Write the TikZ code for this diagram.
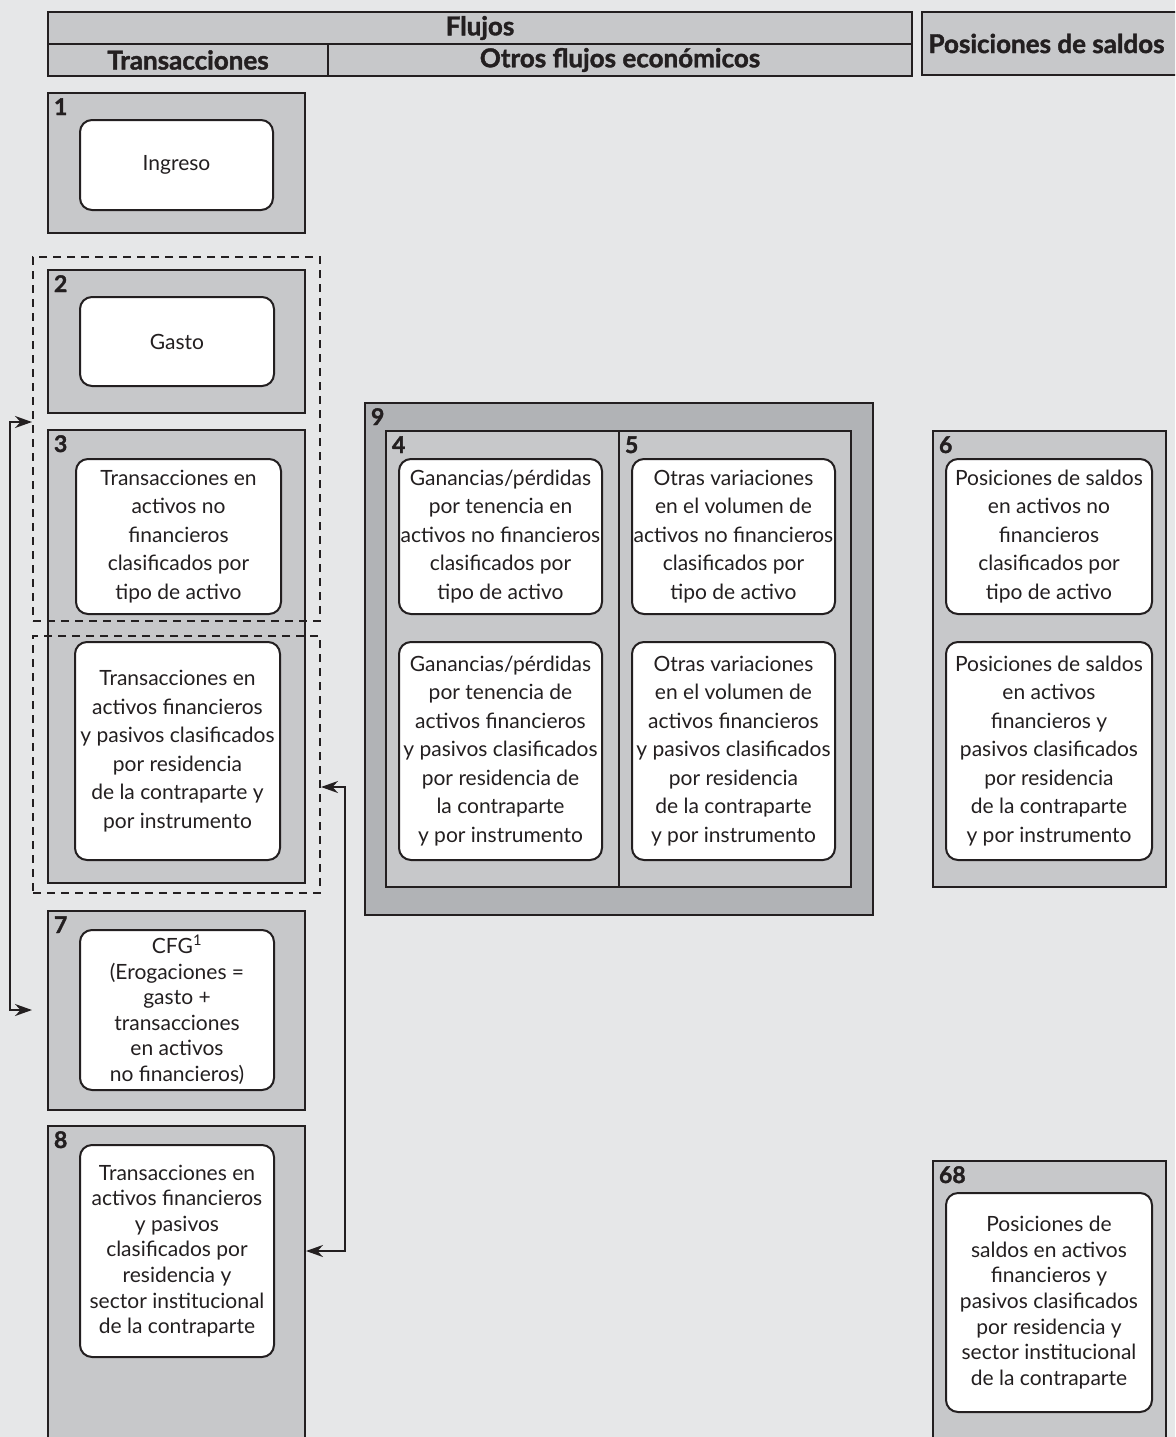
\documentclass[tikz,border=0pt]{standalone}
\usepackage{fontspec}
\setmainfont{Lato}
\newfontfamily\heavyfont[FakeBold=1.5]{Lato}
\usepackage{tikz}
\usetikzlibrary{shapes,arrows,fit, positioning, arrows.meta}
\usetikzlibrary{backgrounds}

\definecolor{bg_gray}{HTML}{E6E7E8}
\definecolor{box_gray}{HTML}{C7C8CA}
\definecolor{outer_gray}{HTML}{B1B3B6}
\definecolor{line_black}{HTML}{231F20}

\begin{document}
\begin{tikzpicture}[x=1pt, y=-1pt, line width=2pt, color=line_black, >={Stealth[length=17pt, width=12pt]}]
	\tikzstyle{frame_style}=[rectangle, draw, fill=box_gray, inner sep=0pt]
	\tikzstyle{head_style}=[rectangle, draw, fill=box_gray, inner sep=0pt, font=\fontsize{26}{30}\heavyfont\bfseries]
	\tikzstyle{text_style}=[rectangle, draw, fill=white, rounded corners=12pt, align=center, inner sep=0pt, font=\fontsize{21}{28.5}\selectfont]
	\tikzstyle{tight_style}=[text_style, font=\fontsize{21}{25.6}\selectfont]
	\tikzstyle{number_style}=[anchor=base west, inner sep=0pt, font=\fontsize{23}{25}\heavyfont\bfseries]
	\tikzstyle{dashed_style}=[rectangle, draw, dash pattern=on 8pt off 6pt, inner sep=0pt]

	\useasboundingbox (0,0) rectangle (1175,1437);
	\clip (0,0) rectangle (1175,1437);
	\fill[bg_gray] (0,0) rectangle (1175,1437);

	% headers
	\node at (480, 28) [head_style, minimum width=864pt, minimum height=32pt] (head_flujos) {Flujos};
	\node at (188, 60) [head_style, minimum width=280pt, minimum height=32pt] (head_trans) {Transacciones};
	\node at (620, 60) [head_style, minimum width=584pt, minimum height=32pt] (head_otros) {Otros flujos económicos};
	\node at (1053.5, 43.5) [head_style, minimum width=263pt, minimum height=63pt] (head_saldos) {\hspace*{-14pt}Posiciones de saldos};

	% transacciones
	\foreach \n/\cy/\h in {1/163/140, 2/341.5/143, 3/656.5/453, 7/1010.5/199, 8/1293/334}
		\node at (176.5, \cy) [frame_style, minimum width=257pt, minimum height=\h pt] (frame_\n) {};
	\node at (176.5, 165) [text_style, minimum width=193pt, minimum height=90pt] (text_1) {Ingreso};
	\node at (177, 341.5) [text_style, minimum width=194pt, minimum height=89pt] (text_2) {Gasto};
	\node at (178.5, 536.5) [text_style, minimum width=205pt, minimum height=155pt] (text_3a) {Transacciones en\\activos no\\financieros\\clasificados por\\tipo de activo};
	\node at (177.5, 751) [text_style, minimum width=205pt, minimum height=218pt] (text_3b) {Transacciones en\\activos financieros\\y pasivos clasificados\\por residencia\\de la contraparte y\\por instrumento};
	\node at (177, 1010) [tight_style, minimum width=194pt, minimum height=160pt] (text_7) {CFG\textsuperscript{1}\\(Erogaciones =\\gasto +\\transacciones\\en activos\\no financieros)};
	\node at (177, 1251) [tight_style, minimum width=194pt, minimum height=212pt] (text_8) {Transacciones en\\activos financieros\\y pasivos\\clasificados por\\residencia y\\sector institucional\\de la contraparte};
	\node at (176.5, 439) [dashed_style, minimum width=287pt, minimum height=364pt] (dash_a) {};
	\node at (176.5, 764.5) [dashed_style, minimum width=287pt, minimum height=257pt] (dash_b) {};

	% otros flujos
	\node at (619, 659) [frame_style, fill=outer_gray, minimum width=508pt, minimum height=512pt] (frame_9) {};
	\node at (502.5, 659) [frame_style, minimum width=233pt, minimum height=456pt] (frame_4) {};
	\node at (735, 659) [frame_style, minimum width=232pt, minimum height=456pt] (frame_5) {};
	\node at (500.5, 536.5) [text_style, minimum width=203pt, minimum height=155pt] (text_4a) {Ganancias/pérdidas\\por tenencia en\\activos no financieros\\clasificados por\\tipo de activo};
	\node at (500.5, 751) [text_style, minimum width=203pt, minimum height=218pt] (text_4b) {Ganancias/pérdidas\\por tenencia de\\activos financieros\\y pasivos clasificados\\por residencia de\\la contraparte\\y por instrumento};
	\node at (733.5, 536.5) [text_style, minimum width=203pt, minimum height=155pt] (text_5a) {Otras variaciones\\en el volumen de\\activos no financieros\\clasificados por\\tipo de activo};
	\node at (733.5, 751) [text_style, minimum width=203pt, minimum height=218pt] (text_5b) {Otras variaciones\\en el volumen de\\activos financieros\\y pasivos clasificados\\por residencia\\de la contraparte\\y por instrumento};

	% posiciones de saldos
	\node at (1049.5, 659) [frame_style, minimum width=233pt, minimum height=456pt] (frame_6) {};
	\node at (1049.5, 1310.5) [frame_style, minimum width=233pt, minimum height=299pt] (frame_68) {};
	\node at (1049, 536.5) [text_style, minimum width=206pt, minimum height=155pt] (text_6a) {Posiciones de saldos\\en activos no\\financieros\\clasificados por\\tipo de activo};
	\node at (1049, 751) [text_style, minimum width=206pt, minimum height=218pt] (text_6b) {Posiciones de saldos\\en activos\\financieros y\\pasivos clasificados\\por residencia\\de la contraparte\\y por instrumento};
	\node at (1049, 1302.5) [tight_style, minimum width=206pt, minimum height=219pt] (text_68) {Posiciones de\\saldos en activos\\financieros y\\pasivos clasificados\\por residencia y\\sector institucional\\de la contraparte};

	% numbers
	\foreach \n in {1,2,3,4,5,6,7,8,9,68}
		\node at ([shift={(6,23)}]frame_\n.north west) [number_style] {\n};

	% connect: gasto -> CFG
	\coordinate (link_l) at (10, 422);
	\draw[<->] (dash_a.west |- link_l) -- (link_l) |- (dash_a.west |- text_7);

	% connect: activos financieros -> sector
	\coordinate (link_r) at (345, 787);
	\draw[<->] (dash_b.east |- link_r) -- (link_r) |- (frame_8.east |- text_8);
\end{tikzpicture}
\end{document}
